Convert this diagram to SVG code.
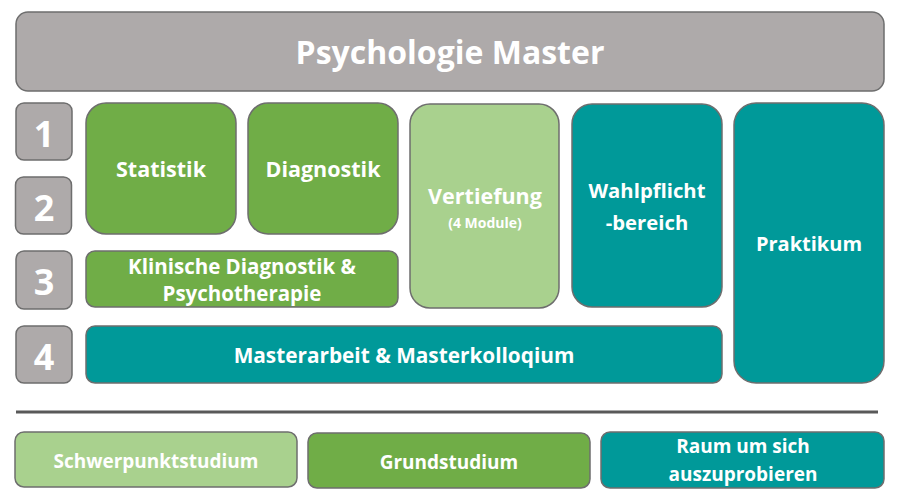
<svg xmlns="http://www.w3.org/2000/svg" width="900" height="502" viewBox="0 0 900 502">
<style>
.box{stroke:#6e6e6e;stroke-width:1.5}
.grey{fill:#AEAAAA}
.green{fill:#70AD47}
.lgreen{fill:#A9D18E}
.teal{fill:#009999}
text{font-family:"Open Sans","Liberation Sans",sans-serif;font-weight:bold;fill:#fff;text-anchor:middle}
</style>
<rect width="900" height="502" fill="#fff"/>
<g id="title"><rect class="box grey" x="16" y="12" width="868" height="79" rx="12"/><text x="450" y="64" font-size="32">Psychologie Master</text></g>
<g id="sem1"><rect class="box grey" x="16" y="103" width="56" height="57" rx="8"/><text x="44" y="147" font-size="36">1</text></g>
<g id="sem2"><rect class="box grey" x="15.5" y="177" width="56" height="57" rx="8"/><text x="44" y="221" font-size="36">2</text></g>
<g id="sem3"><rect class="box grey" x="16" y="251" width="56" height="58" rx="8"/><text x="44" y="295" font-size="36">3</text></g>
<g id="sem4"><rect class="box grey" x="16" y="326" width="56" height="57" rx="8"/><text x="44" y="370" font-size="36">4</text></g>
<g id="statistik"><rect class="box green" x="86" y="103" width="150" height="131" rx="20"/><text x="161" y="177" font-size="21.5">Statistik</text></g>
<g id="diagnostik"><rect class="box green" x="248" y="103" width="150" height="131" rx="20"/><text x="323" y="177" font-size="21.5">Diagnostik</text></g>
<g id="vertiefung"><rect class="box lgreen" x="410" y="104" width="149" height="204" rx="20"/><text x="485" y="204" font-size="21.5">Vertiefung</text><text x="485" y="228" font-size="14">(4 Module)</text></g>
<g id="wahlpflicht"><rect class="box teal" x="572" y="104" width="150" height="203" rx="20"/><text x="647" y="198" font-size="20.3">Wahlpflicht</text><text x="647" y="230" font-size="20.3">-bereich</text></g>
<g id="praktikum"><rect class="box teal" x="734" y="103" width="150" height="280" rx="22"/><text x="809" y="251" font-size="20">Praktikum</text></g>
<g id="klinisch"><rect class="box green" x="86" y="251" width="312" height="56" rx="9"/><text x="242" y="274" font-size="20.5">Klinische Diagnostik &amp;</text><text x="242" y="301" font-size="20.5">Psychotherapie</text></g>
<g id="masterarbeit"><rect class="box teal" x="86" y="326" width="636" height="57" rx="9"/><text x="404" y="363" font-size="20.8">Masterarbeit &amp; Masterkolloqium</text></g>
<line x1="16" y1="412" x2="878" y2="412" stroke="#595959" stroke-width="3"/>
<g id="schwerpunkt"><rect class="box lgreen" x="15" y="432" width="282" height="55" rx="9"/><text x="156" y="468" font-size="19">Schwerpunktstudium</text></g>
<g id="grund"><rect class="box green" x="308" y="433" width="282" height="55" rx="9"/><text x="449" y="469" font-size="19">Grundstudium</text></g>
<g id="raum"><rect class="box teal" x="601" y="432" width="283" height="56" rx="9"/><text x="743" y="453" font-size="19">Raum um sich</text><text x="743" y="481" font-size="19">auszuprobieren</text></g>
</svg>
